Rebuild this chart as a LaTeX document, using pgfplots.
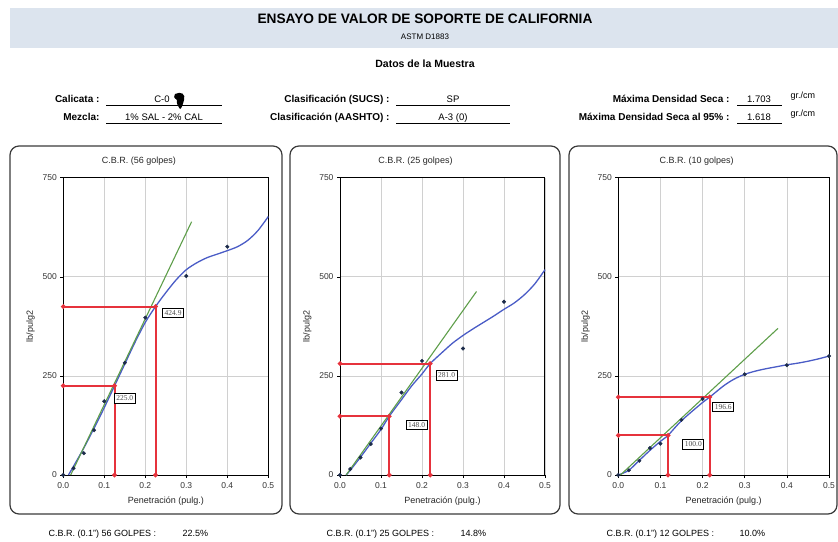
\documentclass[border=0pt]{standalone}
\usepackage{fontspec}
\setmainfont{Liberation Sans}
\newfontfamily\boxfont{Liberation Serif}
\usepackage{pgfplots}
\pgfplotsset{compat=1.18}

\definecolor{band}{HTML}{DCE4EE}
\definecolor{fitblue}{HTML}{4A5CC6}
\definecolor{tangent}{HTML}{5E9E4A}
\definecolor{guide}{HTML}{E6323C}
\definecolor{pt}{HTML}{1C2B4A}
\definecolor{gridgray}{HTML}{D0D0D0}
\definecolor{frame}{HTML}{3A3A3A}

\pgfplotsset{
  cbr/.style={
    scale only axis, height=297.3pt,
    xmin=0, xmax=0.5, ymin=0, ymax=750,
    xtick={0,0.1,0.2,0.3,0.4,0.5}, ytick={0,250,500,750},
    xtick pos=bottom, ytick pos=left,
    grid=major, major grid style={draw=gridgray, line width=0.7pt},
    axis line style={line width=1pt, black},
    tick align=outside, major tick length=3pt,
    tick style={black, line width=0.6pt},
    /pgf/number format/assume math mode=true,
    ticklabel style={font=\fontsize{8.5}{9}\selectfont, text=black!80},
    xticklabel style={yshift=-1pt, /pgf/number format/.cd, fixed, fixed zerofill, precision=1},
    yticklabel style={/pgf/number format/fixed},
    title style={font=\fontsize{9}{10}\selectfont, text=black!85, xshift=-27pt, yshift=3pt},
    xlabel={Penetración (pulg.)}, ylabel={lb/pulg2},
    label style={font=\fontsize{9}{10}\selectfont, text=black!85},
    xlabel style={yshift=-1pt},
    ylabel style={yshift=1pt},
    clip=false,
  },
  cbrfit/.style={fitblue, line width=1.3pt, smooth, no marks},
  cbrtan/.style={tangent, line width=1.1pt, no marks},
  cbrpts/.style={only marks, mark=*, mark size=1.8pt, pt},
  cbrguide/.style={guide, line width=2pt, mark=*, mark size=1.2pt, mark options={guide}},
}
\newcommand\valbox[3]{\node[draw=black, line width=1pt, fill=white, inner sep=2pt,
  font=\boxfont\fontsize{7.5}{7.5}\selectfont, text=black!70] at (axis cs:#1,#2) {#3};}

\begin{document}
\begin{tikzpicture}[x=1pt, y=1pt]
\useasboundingbox (0,0) rectangle (838,541);

% header band
\fill[band] (10,493) rectangle (838,533);
\node[font=\bfseries\fontsize{13.7}{15}\selectfont] at (425,522) {ENSAYO DE VALOR DE SOPORTE DE CALIFORNIA};
\node[font=\fontsize{8}{9}\selectfont] at (425,504) {ASTM D1883};
\node[font=\bfseries\fontsize{10.5}{11}\selectfont] at (425,477) {Datos de la Muestra};

% sample data fields
\begin{scope}[font=\fontsize{9.5}{10}\selectfont]
  \tikzset{lbl/.style={anchor=base east, font=\bfseries\fontsize{10}{11}\selectfont}}
  \node[lbl] at (103,438) {Calicata :};
  \node[lbl] at (103,420) {Mezcla:};
  \node[lbl] at (393,438) {Clasificación (SUCS) :};
  \node[lbl] at (393,420) {Clasificación (AASHTO) :};
  \node[lbl] at (733,438) {Máxima Densidad Seca :};
  \node[lbl] at (733,420) {Máxima Densidad Seca al 95\% :};
  \draw[line width=1pt] (106,435) -- (222,435) (106,417) -- (222,417);
  \draw[line width=1pt] (396,435) -- (510,435) (396,417) -- (510,417);
  \draw[line width=1pt] (737,435) -- (782,435) (737,417) -- (782,417);
  \node[anchor=base] at (162,438) {C-0};
  \fill[black] (175,447) .. controls (181,450) and (186,447) .. (184,441)
     .. controls (183,437) and (182,433) .. (180,432)
     .. controls (178,435) and (176,438) .. (177,441)
     .. controls (174,443) and (173,445) .. (175,447) -- cycle;
  \node[anchor=base] at (164,420) {1\% SAL - 2\% CAL};
  \node[anchor=base] at (453,438) {SP};
  \node[anchor=base] at (453,420) {A-3 (0)};
  \node[anchor=base] at (759,438) {1.703};
  \node[anchor=base] at (759,420) {1.618};
  \node[anchor=base west, font=\fontsize{9}{10}\selectfont] at (787,442) {gr./cm};
  \node[anchor=base west, font=\fontsize{9}{10}\selectfont] at (787,424) {gr./cm};
\end{scope}

% panel frames
\draw[frame, line width=1.2pt, rounded corners=9pt] (10,27) rectangle (282,395);
\draw[frame, line width=1.2pt, rounded corners=9pt] (290,27) rectangle (560,395);
\draw[frame, line width=1.2pt, rounded corners=9pt] (569,27) rectangle (837,395);

% 56 blows
\begin{axis}[cbr, at={(63.3pt,66pt)}, anchor=south west, width=205pt,
  title={C.B.R. (56 golpes)}]
\addplot[cbrfit] coordinates {(0.0125,0) (0.025,22) (0.05,68) (0.075,118) (0.1,170)
  (0.125,225) (0.15,280) (0.175,335) (0.2,385) (0.225,425) (0.25,460) (0.275,492)
  (0.3,518) (0.325,535) (0.35,548) (0.375,557) (0.4,566) (0.425,576) (0.45,592)
  (0.475,617) (0.5,652)};
\addplot[cbrtan] coordinates {(0.018,0) (0.313,639)};
\addplot[cbrguide] coordinates {(0,424.9) (0.225,424.9) (0.225,0)};
\addplot[cbrguide] coordinates {(0,225.0) (0.125,225.0) (0.125,0)};
\addplot[cbrpts] coordinates {(0,0) (0.025,17) (0.05,55) (0.075,113) (0.1,186)
  (0.15,283) (0.2,397) (0.3,502) (0.4,576)};
\valbox{0.268}{408}{424.9}
\valbox{0.15}{193}{225.0}
\end{axis}

% 25 blows
\begin{axis}[cbr, at={(340pt,66pt)}, anchor=south west, width=205pt,
  title={C.B.R. (25 golpes)}]
\addplot[cbrfit] coordinates {(0.015,0) (0.025,12) (0.05,45) (0.075,80) (0.1,115)
  (0.12,148) (0.15,190) (0.175,225) (0.2,255) (0.22,281) (0.25,310) (0.275,333)
  (0.3,352) (0.325,369) (0.35,385) (0.375,401) (0.4,418) (0.425,434) (0.45,455)
  (0.475,482) (0.5,518)};
\addplot[cbrtan] coordinates {(0.015,0) (0.333,463)};
\addplot[cbrguide] coordinates {(0,281.0) (0.22,281.0) (0.22,0)};
\addplot[cbrguide] coordinates {(0,148.0) (0.12,148.0) (0.12,0)};
\addplot[cbrpts] coordinates {(0,0) (0.025,15) (0.05,44) (0.075,78) (0.1,117)
  (0.15,208) (0.2,288) (0.3,319) (0.4,437)};
\valbox{0.26}{251}{281.0}
\valbox{0.187}{126}{148.0}
\end{axis}

% 10 blows
\begin{axis}[cbr, at={(618.3pt,66pt)}, anchor=south west, width=210.7pt,
  title={C.B.R. (10 golpes)}]
\addplot[cbrfit] coordinates {(0,0) (0.025,12) (0.05,37) (0.075,62) (0.1,85)
  (0.118,100) (0.15,137) (0.2,183) (0.217,196.6) (0.25,225) (0.275,242)
  (0.3,254) (0.325,262) (0.35,268) (0.375,273) (0.4,278) (0.425,282)
  (0.45,287) (0.475,293) (0.5,300)};
\addplot[cbrtan] coordinates {(0.005,0) (0.379,370)};
\addplot[cbrguide] coordinates {(0,196.6) (0.217,196.6) (0.217,0)};
\addplot[cbrguide] coordinates {(0,100.0) (0.118,100.0) (0.118,0)};
\addplot[cbrpts] coordinates {(0,0) (0.025,12) (0.05,36) (0.075,68) (0.1,79)
  (0.15,139) (0.2,192) (0.3,254) (0.4,277) (0.5,300)};
\valbox{0.249}{171}{196.6}
\valbox{0.178}{77}{100.0}
\end{axis}

% results below each panel
\begin{scope}[font=\fontsize{9}{10}\selectfont]
  \node[anchor=base west] at (45,5) {C.B.R. (0.1") 56 GOLPES :};
  \node[anchor=base west] at (179,5) {22.5\%};
  \node[anchor=base west] at (323,5) {C.B.R. (0.1") 25 GOLPES :};
  \node[anchor=base west] at (457,5) {14.8\%};
  \node[anchor=base west] at (603,5) {C.B.R. (0.1") 12 GOLPES :};
  \node[anchor=base west] at (736,5) {10.0\%};
\end{scope}
\end{tikzpicture}
\end{document}
